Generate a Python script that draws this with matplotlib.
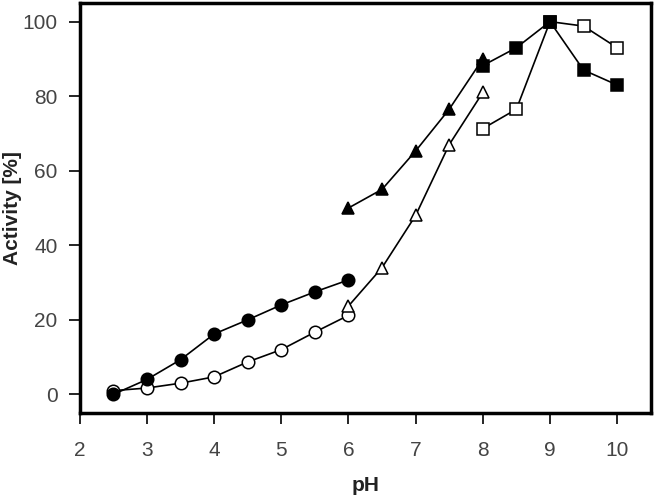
import matplotlib
matplotlib.use("Agg")
import matplotlib.pyplot as plt

plt.rcParams['font.family'] = ['Liberation Sans', 'DejaVu Sans']

# pH values and relative activity (%) per buffer series
ph_acid = [2.5, 3, 3.5, 4, 4.5, 5, 5.5, 6]
filled_circle = [0, 4, 9.3, 16.2, 20, 24, 27.5, 30.7]
open_circle = [1, 1.7, 3, 4.7, 8.7, 12, 16.7, 21.2]

ph_mid = [6, 6.5, 7, 7.5, 8]
filled_triangle = [50, 55, 65.3, 76.5, 90]
open_triangle = [23.7, 34, 48, 67, 81]

ph_base = [8, 8.5, 9, 9.5, 10]
filled_square = [88.2, 93, 100, 87, 83]
open_square = [71.3, 76.5, 100, 98.8, 93]

fig = plt.figure(figsize=(6.54, 4.97), dpi=100)
ax = fig.add_axes([0.122, 0.169, 0.873, 0.825])

common = dict(color='black', linewidth=1.2, markeredgecolor='black', markeredgewidth=1.1)
ax.plot(ph_acid, open_circle, marker='o', markersize=9, markerfacecolor='white', **common)
ax.plot(ph_acid, filled_circle, marker='o', markersize=9, markerfacecolor='black', **common)
ax.plot(ph_mid, open_triangle, marker='^', markersize=9, markerfacecolor='white', **common)
ax.plot(ph_mid, filled_triangle, marker='^', markersize=9, markerfacecolor='black', **common)
ax.plot(ph_base, open_square, marker='s', markersize=8, markerfacecolor='white', **common)
ax.plot(ph_base, filled_square, marker='s', markersize=8, markerfacecolor='black', **common)

ax.set_xlim(2, 10.5)
ax.set_ylim(-5, 105)
ax.set_xticks(range(2, 11))
ax.set_yticks(range(0, 101, 20))
for s in ax.spines.values():
    s.set_linewidth(2.5)
ax.tick_params(direction='out', length=8, width=1.2, labelsize=15, labelcolor='#444444')
ax.tick_params(axis='x', pad=12)
ax.tick_params(axis='y', pad=8)

ax.set_xlabel('pH', fontsize=15, fontweight='bold', color='#222222', va='center')
ax.set_ylabel('Activity [%]', fontsize=15, fontweight='bold', color='#222222', va='center')
ax.xaxis.set_label_coords(0.5, -0.178)
ax.yaxis.set_label_coords(-0.118, 0.5)

fig.savefig('out.png', dpi=100)
